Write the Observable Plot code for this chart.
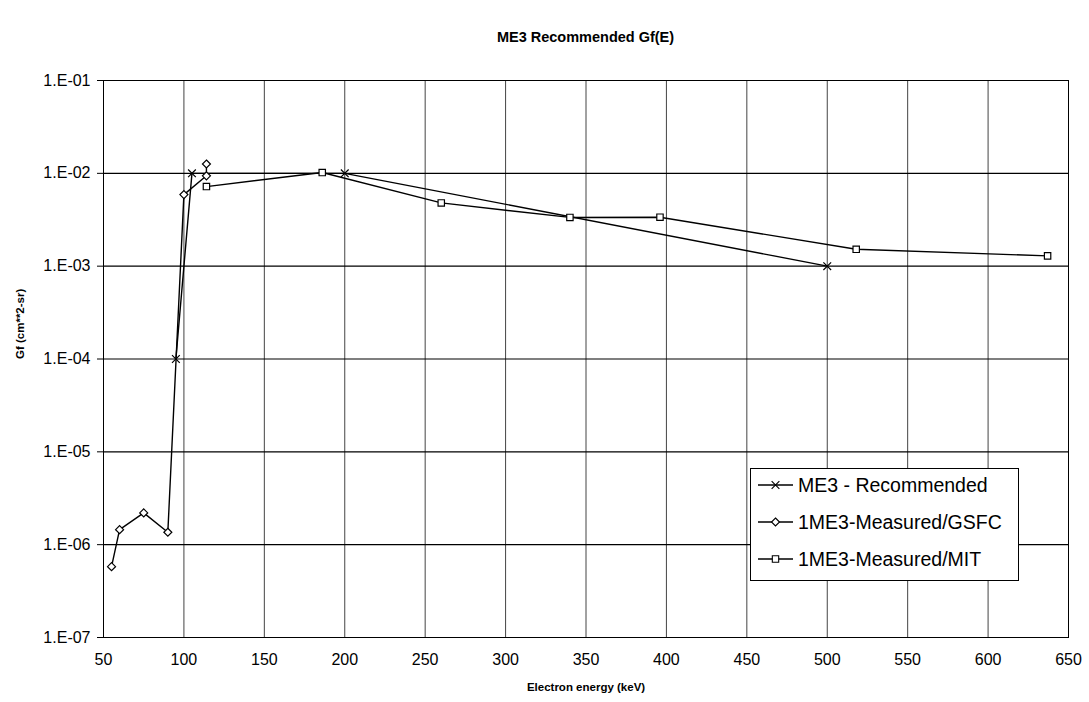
<!DOCTYPE html>
<html><head><meta charset="utf-8">
<script src="https://cdn.jsdelivr.net/npm/d3@7"></script>
<script src="https://cdn.jsdelivr.net/npm/@observablehq/plot@0.6"></script>
<style>
body{margin:0;background:#fff;font-family:"Liberation Sans",Arial,sans-serif;}
#wrap{position:relative;width:1089px;height:702px;}
#wrap svg.plot{position:absolute;left:0;top:0;z-index:0;}
#title{position:absolute;left:103px;width:965px;top:29px;text-align:center;font-weight:bold;font-size:14.5px;color:#000;z-index:2;}
#legend{position:absolute;left:750px;top:468px;z-index:2;}
</style></head><body><div id="wrap"></div>
<script>
const chartTitle = "ME3 Recommended Gf(E)";
const xLabel = "Electron energy (keV)";
const yLabel = "Gf (cm**2-sr)";
const seriesNames = ["ME3 - Recommended", "1ME3-Measured/GSFC", "1ME3-Measured/MIT"];
const seriesSymbols = ["times", "diamond2", "square"];

const me3Energy = [95, 105, 200, 500];
const me3Gf = [1e-4, 1e-2, 1e-2, 1e-3];
const gsfcEnergy = [55, 60, 75, 90, 100, 114, 114];
const gsfcGf = [5.8e-7, 1.45e-6, 2.2e-6, 1.36e-6, 5.9e-3, 9.4e-3, 1.26e-2];
const mitEnergy = [114, 186, 260, 340, 396, 518, 637];
const mitGf = [7.2e-3, 1.02e-2, 4.8e-3, 3.35e-3, 3.37e-3, 1.52e-3, 1.29e-3];

const xTicks = [50, 100, 150, 200, 250, 300, 350, 400, 450, 500, 550, 600, 650];
const yTicks = [1e-7, 1e-6, 1e-5, 1e-4, 1e-3, 1e-2, 1e-1];
const yTickLabels = ["1.E-07", "1.E-06", "1.E-05", "1.E-04", "1.E-03", "1.E-02", "1.E-01"];

const toRows = (es, gs, s) => es.map((e, i) => ({E: e, Gf: gs[i], series: s}));
const rows = [
  toRows(me3Energy, me3Gf, seriesNames[0]),
  toRows(gsfcEnergy, gsfcGf, seriesNames[1]),
  toRows(mitEnergy, mitGf, seriesNames[2])
];

const lineMarks = rows.map(r => Plot.line(r, {x: "E", y: "Gf", stroke: "#000", strokeWidth: 1.4}));
const dotMarks = rows.map((r, i) => Plot.dot(r, {x: "E", y: "Gf", symbol: seriesSymbols[i], r: 3.6, stroke: "#000", strokeWidth: 1.2, fill: "white"}));

const chart = Plot.plot({
  width: 1089,
  height: 702,
  marginLeft: 103,
  marginRight: 21,
  marginTop: 80,
  marginBottom: 65,
  style: {fontFamily: "'Liberation Sans', Arial, sans-serif", fontSize: "16px", color: "#000", background: "white"},
  x: {type: "linear", domain: [50, 650]},
  y: {type: "log", domain: [1e-7, 1e-1]},
  marks: [
    Plot.gridX(xTicks, {stroke: "#444", strokeOpacity: 1, strokeWidth: 1}),
    Plot.gridY(yTicks, {stroke: "#000", strokeOpacity: 1, strokeWidth: 1.2}),
    Plot.frame({stroke: "#000", strokeWidth: 1}),
    Plot.axisX(xTicks, {tickSize: 0, tickPadding: 16, label: null, tickFormat: d => String(d)}),
    Plot.axisY(yTicks, {tickSize: 6, tickPadding: 7, label: null, tickFormat: d => yTickLabels[yTicks.indexOf(d)]}),
    Plot.text([xLabel], {frameAnchor: "bottom", dy: 53, fontSize: 11.5, fontWeight: "bold"}),
    Plot.text([yLabel], {frameAnchor: "left", dx: -83, rotate: -90, fontSize: 11.5, fontWeight: "bold"}),
    ...lineMarks,
    ...dotMarks
  ]
});
chart.classList.add("plot");
const wrap = document.getElementById("wrap");
wrap.appendChild(chart);
const titleDiv = document.createElement("div");
titleDiv.id = "title";
titleDiv.textContent = chartTitle;
wrap.appendChild(titleDiv);

// legend
const symMap = {times: d3.symbolTimes, diamond2: d3.symbolDiamond2, square: d3.symbolSquare};
const lw = 268, lh = 112;
const leg = d3.select("#wrap").append("svg").attr("id", "legend").attr("width", lw + 2).attr("height", lh + 2);
leg.append("rect").attr("x", 0.5).attr("y", 0.5).attr("width", lw).attr("height", lh).attr("fill", "white").attr("stroke", "#000");
seriesNames.forEach((name, i) => {
  const cy = 17 + i * 37;
  leg.append("line").attr("x1", 8).attr("x2", 43).attr("y1", cy).attr("y2", cy).attr("stroke", "#000").attr("stroke-width", 1.3);
  leg.append("path").attr("d", d3.symbol(symMap[seriesSymbols[i]], Math.PI * 3.6 * 3.6)()).attr("transform", `translate(25.5,${cy})`)
    .attr("fill", "white").attr("stroke", "#000").attr("stroke-width", 1.1);
  leg.append("text").attr("x", 48).attr("y", cy).attr("dy", "0.36em").attr("font-size", 19.5)
    .attr("font-family", "'Liberation Sans', Arial, sans-serif").text(name);
});
</script>
</body></html>
